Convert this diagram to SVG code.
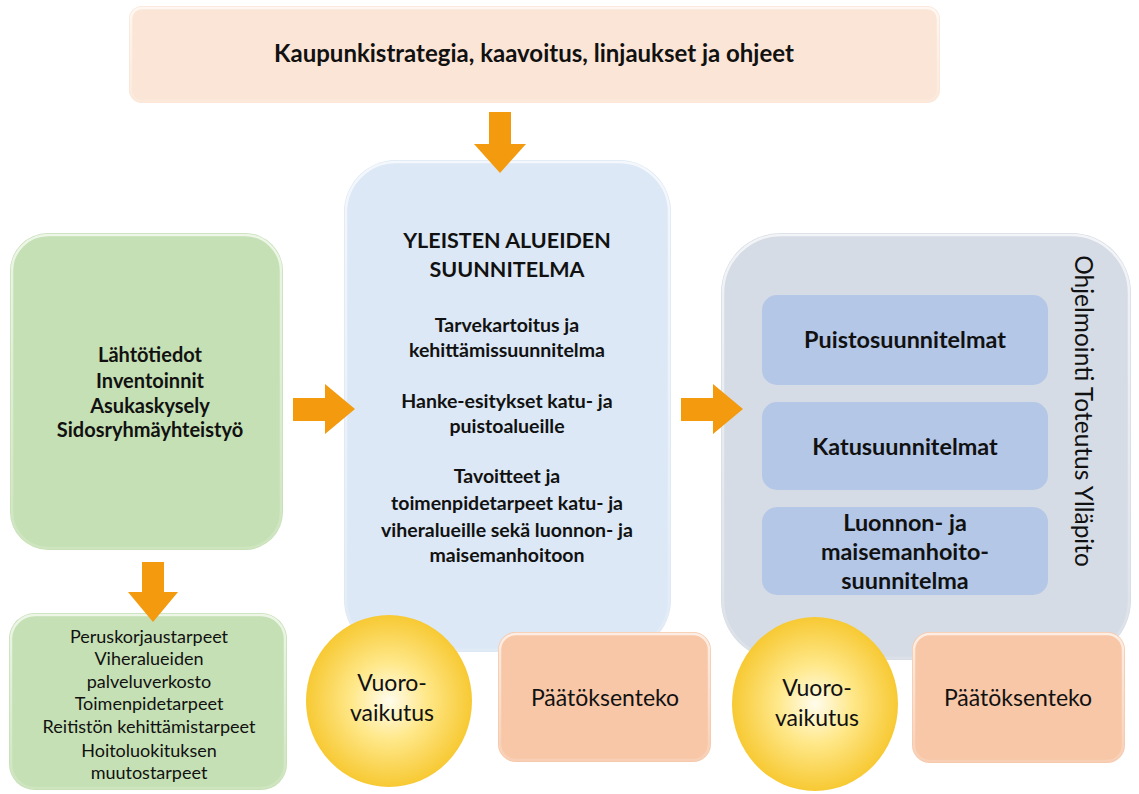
<svg xmlns="http://www.w3.org/2000/svg" width="1139" height="794" viewBox="0 0 1139 794">
  <defs>
    <radialGradient id="gYellow" cx="0.5" cy="0.5" r="0.5">
      <stop offset="0" stop-color="#fffcec"/>
      <stop offset="0.45" stop-color="#ffe88a"/>
      <stop offset="1" stop-color="#f7c933"/>
    </radialGradient>
    <linearGradient id="gEdge" x1="0" y1="0" x2="0" y2="1">
      <stop offset="0" stop-color="#ffffff" stop-opacity="0.7"/>
      <stop offset="1" stop-color="#ffffff" stop-opacity="0.15"/>
    </linearGradient>
  </defs>
  <style>
    text { font-family: Lato, "Liberation Sans", Arial, sans-serif; fill: #111111; text-anchor: middle; }
    .b { font-weight: bold; }
    .peach { fill: #fbe5d6; }
    .blue { fill: #dce8f5; }
    .green { fill: #c5e0b4; }
    .gray { fill: #d6dce5; }
    .inner { fill: #b4c7e7; }
    .orange { fill: #f7c7a8; }
    .edge { fill: none; stroke: url(#gEdge); stroke-width: 2.5; }
    .arrow { fill: #f39a0e; }
    .t1 { font-size: 24px; }
    .th { font-size: 21.5px; }
    .tb { font-size: 19.5px; }
    .tg { font-size: 20px; }
    .ts { font-size: 18px; }
    .ti { font-size: 23.4px; }
    .tc { font-size: 23px; }
  </style>

  <g id="strategy">
    <rect class="peach" x="129" y="6" width="811" height="97" rx="13"/>
    <rect class="edge" x="131" y="8" width="807" height="93" rx="11"/>
    <text class="b t1" x="534" y="62">Kaupunkistrategia, kaavoitus, linjaukset ja ohjeet</text>
  </g>

  <g id="plan">
    <rect class="blue" x="344" y="160" width="327" height="492" rx="52"/>
    <rect class="edge" x="346" y="162" width="323" height="488" rx="50"/>
    <text class="b th" x="507" y="248">YLEISTEN ALUEIDEN</text>
    <text class="b th" x="507" y="277">SUUNNITELMA</text>
    <text class="b tb" x="507" y="332">Tarvekartoitus ja</text>
    <text class="b tb" x="507" y="357">kehittämissuunnitelma</text>
    <text class="b tb" x="507" y="408">Hanke-esitykset katu- ja</text>
    <text class="b tb" x="507" y="433">puistoalueille</text>
    <text class="b tb" x="507" y="483">Tavoitteet ja</text>
    <text class="b tb" x="507" y="510">toimenpidetarpeet katu- ja</text>
    <text class="b tb" x="507" y="537">viheralueille sekä luonnon- ja</text>
    <text class="b tb" x="507" y="562">maisemanhoitoon</text>
  </g>

  <g id="source">
    <rect class="green" x="10" y="233" width="273" height="317" rx="38"/>
    <rect class="edge" x="12" y="235" width="269" height="313" rx="36"/>
    <text class="b tg" x="150" y="362">Lähtötiedot</text>
    <text class="b tg" x="150" y="388">Inventoinnit</text>
    <text class="b tg" x="150" y="413">Asukaskysely</text>
    <text class="b tg" x="150" y="437">Sidosryhmäyhteistyö</text>
  </g>

  <g id="needs">
    <rect class="green" x="9" y="613" width="278" height="177" rx="26"/>
    <rect class="edge" x="11" y="615" width="274" height="173" rx="24"/>
    <text class="ts" x="149" y="643">Peruskorjaustarpeet</text>
    <text class="ts" x="149" y="665">Viheralueiden</text>
    <text class="ts" x="149" y="688">palveluverkosto</text>
    <text class="ts" x="149" y="710">Toimenpidetarpeet</text>
    <text class="ts" x="149" y="733">Reitistön kehittämistarpeet</text>
    <text class="ts" x="149" y="757">Hoitoluokituksen</text>
    <text class="ts" x="149" y="779">muutostarpeet</text>
  </g>

  <g id="implementation">
    <rect class="gray" x="721" y="233" width="410" height="427" rx="60"/>
    <rect class="edge" x="723" y="235" width="406" height="423" rx="58"/>
    <text transform="translate(1075,411) rotate(90)" font-size="24.5">Ohjelmointi Toteutus Ylläpito</text>
  </g>

  <g id="parks">
    <rect class="inner" x="762" y="295" width="286" height="90" rx="15"/>
    <text class="b ti" x="905" y="348">Puistosuunnitelmat</text>
  </g>
  <g id="streets">
    <rect class="inner" x="762" y="402" width="286" height="88" rx="15"/>
    <text class="b ti" x="905" y="455">Katusuunnitelmat</text>
  </g>
  <g id="nature">
    <rect class="inner" x="762" y="507" width="286" height="88" rx="15"/>
    <text class="b ti" x="905" y="531">Luonnon- ja</text>
    <text class="b ti" x="905" y="560">maisemanhoito-</text>
    <text class="b ti" x="905" y="589">suunnitelma</text>
  </g>

  <g id="interaction1">
    <ellipse cx="389" cy="701" rx="83" ry="86" fill="url(#gYellow)"/>
    <text class="tc" x="392" y="691">Vuoro-</text>
    <text class="tc" x="392" y="721">vaikutus</text>
  </g>
  <g id="decision1">
    <rect class="orange" x="498" y="632" width="213" height="130" rx="18"/>
    <rect class="edge" x="500" y="634" width="209" height="126" rx="16"/>
    <text class="tc" x="605" y="706">Päätöksenteko</text>
  </g>

  <g id="interaction2">
    <ellipse cx="815" cy="704" rx="83" ry="87" fill="url(#gYellow)"/>
    <text class="tc" x="817" y="696">Vuoro-</text>
    <text class="tc" x="817" y="726">vaikutus</text>
  </g>
  <g id="decision2">
    <rect class="orange" x="912" y="632" width="213" height="131" rx="18"/>
    <rect class="edge" x="914" y="634" width="209" height="127" rx="16"/>
    <text class="tc" x="1018" y="706">Päätöksenteko</text>
  </g>

  <g id="connectors">
    <polygon class="arrow" points="489,112 511,112 511,144 526,144 500,173 474,144 489,144"/>
    <polygon class="arrow" points="293,398 325,398 325,384 355,409 325,434 325,421 293,421"/>
    <polygon class="arrow" points="681,398 713,398 713,384 743,409 713,434 713,421 681,421"/>
    <polygon class="arrow" points="142,562 164,562 164,592 178,592 153,622 128,592 142,592"/>
  </g>
</svg>
